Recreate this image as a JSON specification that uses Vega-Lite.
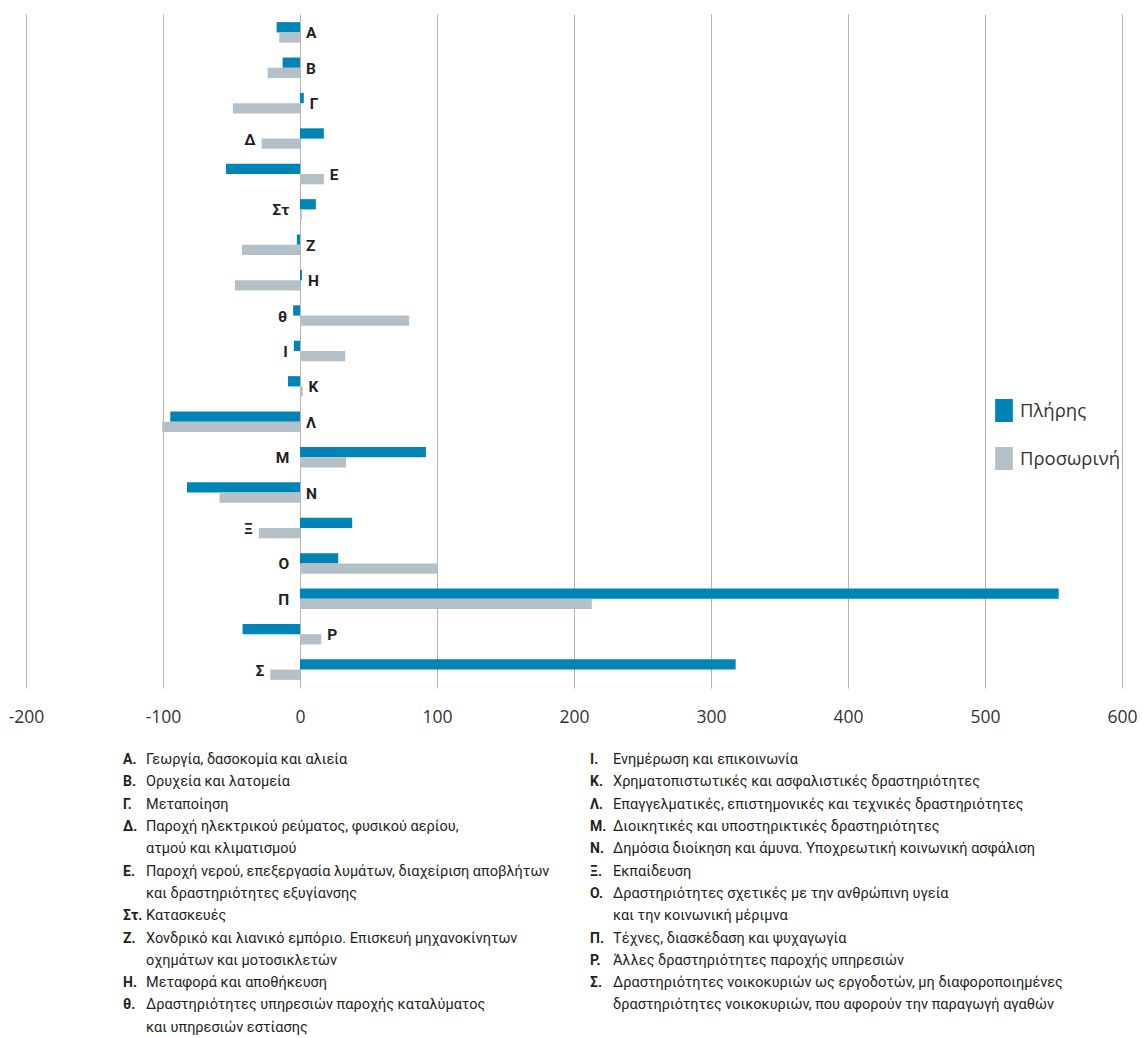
{
  "$schema": "https://vega.github.io/schema/vega-lite/v6.json",
  "padding": {"left": 8, "top": 14, "right": 0, "bottom": 0},
  "background": "white",
  "spacing": 23,
  "config": {"view": {"stroke": null}, "font": "Open Sans"},
  "datasets": {
    "bars": [
      {"cat": "Α", "series": "Πλήρης", "value": -17.1}, {"cat": "Α", "series": "Προσωρινή", "value": -15.2},
      {"cat": "Β", "series": "Πλήρης", "value": -12.7}, {"cat": "Β", "series": "Προσωρινή", "value": -23.6},
      {"cat": "Γ", "series": "Πλήρης", "value": 2.8}, {"cat": "Γ", "series": "Προσωρινή", "value": -49},
      {"cat": "Δ", "series": "Πλήρης", "value": 17.4}, {"cat": "Δ", "series": "Προσωρινή", "value": -28},
      {"cat": "Ε", "series": "Πλήρης", "value": -54}, {"cat": "Ε", "series": "Προσωρινή", "value": 17.4},
      {"cat": "Στ", "series": "Πλήρης", "value": 11.6}, {"cat": "Στ", "series": "Προσωρινή", "value": 1.4},
      {"cat": "Ζ", "series": "Πλήρης", "value": -2.3}, {"cat": "Ζ", "series": "Προσωρινή", "value": -42.4},
      {"cat": "Η", "series": "Πλήρης", "value": 1.4}, {"cat": "Η", "series": "Προσωρινή", "value": -47.5},
      {"cat": "θ", "series": "Πλήρης", "value": -5}, {"cat": "θ", "series": "Προσωρινή", "value": 79.7},
      {"cat": "Ι", "series": "Πλήρης", "value": -4.5}, {"cat": "Ι", "series": "Προσωρινή", "value": 33},
      {"cat": "Κ", "series": "Πλήρης", "value": -8.8}, {"cat": "Κ", "series": "Προσωρινή", "value": 1.9},
      {"cat": "Λ", "series": "Πλήρης", "value": -94.7}, {"cat": "Λ", "series": "Προσωρινή", "value": -100.6},
      {"cat": "Μ", "series": "Πλήρης", "value": 91.9}, {"cat": "Μ", "series": "Προσωρινή", "value": 33.7},
      {"cat": "Ν", "series": "Πλήρης", "value": -82.5}, {"cat": "Ν", "series": "Προσωρινή", "value": -58.7},
      {"cat": "Ξ", "series": "Πλήρης", "value": 38.1}, {"cat": "Ξ", "series": "Προσωρινή", "value": -30},
      {"cat": "Ο", "series": "Πλήρης", "value": 27.9}, {"cat": "Ο", "series": "Προσωρινή", "value": 100.8},
      {"cat": "Π", "series": "Πλήρης", "value": 553.8}, {"cat": "Π", "series": "Προσωρινή", "value": 213},
      {"cat": "Ρ", "series": "Πλήρης", "value": -41.9}, {"cat": "Ρ", "series": "Προσωρινή", "value": 15.5},
      {"cat": "Σ", "series": "Πλήρης", "value": 318}, {"cat": "Σ", "series": "Προσωρινή", "value": -21.7}
    ],
    "notes": [
      {"col": 0, "line": 0, "letter": "Α.", "desc": "Γεωργία, δασοκομία και αλιεία"},
      {"col": 0, "line": 1, "letter": "Β.", "desc": "Ορυχεία και λατομεία"},
      {"col": 0, "line": 2, "letter": "Γ.", "desc": "Μεταποίηση"},
      {"col": 0, "line": 3, "letter": "Δ.", "desc": "Παροχή ηλεκτρικού ρεύματος, φυσικού αερίου,"},
      {"col": 0, "line": 4, "letter": "", "desc": "ατμού και κλιματισμού"},
      {"col": 0, "line": 5, "letter": "Ε.", "desc": "Παροχή νερού, επεξεργασία λυμάτων, διαχείριση αποβλήτων"},
      {"col": 0, "line": 6, "letter": "", "desc": "και δραστηριότητες εξυγίανσης"},
      {"col": 0, "line": 7, "letter": "Στ.", "desc": "Κατασκευές"},
      {"col": 0, "line": 8, "letter": "Ζ.", "desc": "Χονδρικό και λιανικό εμπόριο. Επισκευή μηχανοκίνητων"},
      {"col": 0, "line": 9, "letter": "", "desc": "οχημάτων και μοτοσικλετών"},
      {"col": 0, "line": 10, "letter": "Η.", "desc": "Μεταφορά και αποθήκευση"},
      {"col": 0, "line": 11, "letter": "θ.", "desc": "Δραστηριότητες υπηρεσιών παροχής καταλύματος"},
      {"col": 0, "line": 12, "letter": "", "desc": "και υπηρεσιών εστίασης"},
      {"col": 1, "line": 0, "letter": "Ι.", "desc": "Ενημέρωση και επικοινωνία"},
      {"col": 1, "line": 1, "letter": "Κ.", "desc": "Χρηματοπιστωτικές και ασφαλιστικές δραστηριότητες"},
      {"col": 1, "line": 2, "letter": "Λ.", "desc": "Επαγγελματικές, επιστημονικές και τεχνικές δραστηριότητες"},
      {"col": 1, "line": 3, "letter": "Μ.", "desc": "Διοικητικές και υποστηρικτικές δραστηριότητες"},
      {"col": 1, "line": 4, "letter": "Ν.", "desc": "Δημόσια διοίκηση και άμυνα. Υποχρεωτική κοινωνική ασφάλιση"},
      {"col": 1, "line": 5, "letter": "Ξ.", "desc": "Εκπαίδευση"},
      {"col": 1, "line": 6, "letter": "Ο.", "desc": "Δραστηριότητες σχετικές με την ανθρώπινη υγεία"},
      {"col": 1, "line": 7, "letter": "", "desc": "και την κοινωνική μέριμνα"},
      {"col": 1, "line": 8, "letter": "Π.", "desc": "Τέχνες, διασκέδαση και ψυχαγωγία"},
      {"col": 1, "line": 9, "letter": "Ρ.", "desc": "Άλλες δραστηριότητες παροχής υπηρεσιών"},
      {"col": 1, "line": 10, "letter": "Σ.", "desc": "Δραστηριότητες νοικοκυριών ως εργοδοτών, μη διαφοροποιημένες"},
      {"col": 1, "line": 11, "letter": "", "desc": "δραστηριότητες νοικοκυριών, που αφορούν την παραγωγή αγαθών"}
    ]
  },
  "vconcat": [
    {
      "width": 1096,
      "height": 674,
      "data": {"name": "bars"},
      "encoding": {
        "y": {
          "field": "cat", "type": "nominal",
          "sort": ["Α","Β","Γ","Δ","Ε","Στ","Ζ","Η","θ","Ι","Κ","Λ","Μ","Ν","Ξ","Ο","Π","Ρ","Σ"],
          "axis": null,
          "scale": {"paddingInner": 0.42, "paddingOuter": 0.23}
        }
      },
      "layer": [
        {
          "mark": {"type": "bar"},
          "encoding": {
            "x": {
              "field": "value", "type": "quantitative",
              "scale": {"domain": [-200, 600], "nice": false, "zero": false},
              "axis": {
                "values": [-200, -100, 0, 100, 200, 300, 400, 500, 600],
                "labelExpr": "'' + datum.value",
                "grid": true, "gridColor": "#b5b5b5", "gridWidth": 1,
                "domain": false, "ticks": false, "title": null,
                "labelFontSize": 17.5, "labelColor": "#333333", "labelFont": "Open Sans",
                "labelPadding": 20, "labelFlush": false
              }
            },
            "yOffset": {"field": "series", "type": "nominal", "sort": ["Πλήρης", "Προσωρινή"]},
            "color": {
              "field": "series", "type": "nominal",
              "scale": {"domain": ["Πλήρης", "Προσωρινή"], "range": ["#0084b5", "#b4c0c8"]},
              "legend": {
                "orient": "none", "legendX": 966.5, "legendY": 385, "title": null,
                "symbolType": "M-0.77,-1H0.77V1H-0.77Z", "symbolSize": 529, "symbolStrokeWidth": 0,
                "labelFontSize": 18.5, "labelColor": "#333333", "labelFont": "Open Sans",
                "labelOffset": 4.5, "rowPadding": 25, "padding": 0
              }
            }
          }
        },
        {
          "transform": [
            {"filter": {"field": "cat", "oneOf": ["Α","Β","Γ","Ε","Ζ","Η","Κ","Λ","Ν","Ρ"]}},
            {"aggregate": [{"op": "max", "field": "value", "as": "maxv"}], "groupby": ["cat"]},
            {"calculate": "max(datum.maxv, 0)", "as": "lx"}
          ],
          "mark": {"type": "text", "align": "left", "baseline": "middle", "dx": 6, "dy": 1, "font": "Roboto", "fontWeight": "bold", "fontSize": 15.5, "color": "#231f20"},
          "encoding": {
            "x": {"field": "lx", "type": "quantitative", "scale": {"domain": [-200, 600], "nice": false, "zero": false}},
            "text": {"field": "cat"}
          }
        },
        {
          "transform": [
            {"filter": {"field": "cat", "oneOf": ["Δ","Στ","θ","Ι","Μ","Ξ","Ο","Π","Σ"]}},
            {"aggregate": [{"op": "min", "field": "value", "as": "minv"}], "groupby": ["cat"]},
            {"calculate": "min(datum.minv, -3.5)", "as": "lx"}
          ],
          "mark": {"type": "text", "align": "right", "baseline": "middle", "dx": -6, "dy": 1, "font": "Roboto", "fontWeight": "bold", "fontSize": 15.5, "color": "#231f20"},
          "encoding": {
            "x": {"field": "lx", "type": "quantitative", "scale": {"domain": [-200, 600], "nice": false, "zero": false}},
            "text": {"field": "cat"}
          }
        }
      ]
    },
    {
      "width": 1096,
      "height": 291,
      "data": {"name": "notes"},
      "encoding": {
        "x": {"field": "col", "type": "quantitative", "scale": {"domain": [-0.2077, 2.139], "nice": false, "zero": false}, "axis": null},
        "y": {"field": "line", "type": "quantitative", "scale": {"domain": [-0.5, 12.55], "reverse": true, "nice": false, "zero": false}, "axis": null}
      },
      "layer": [
        {
          "mark": {"type": "text", "align": "left", "baseline": "middle", "font": "Roboto", "fontWeight": "bold", "fontSize": 14, "color": "#231f20"},
          "encoding": {"text": {"field": "letter"}}
        },
        {
          "mark": {"type": "text", "align": "left", "baseline": "middle", "dx": 23, "font": "Roboto", "fontSize": 14.5, "color": "#231f20"},
          "encoding": {"text": {"field": "desc"}}
        }
      ]
    }
  ]
}
